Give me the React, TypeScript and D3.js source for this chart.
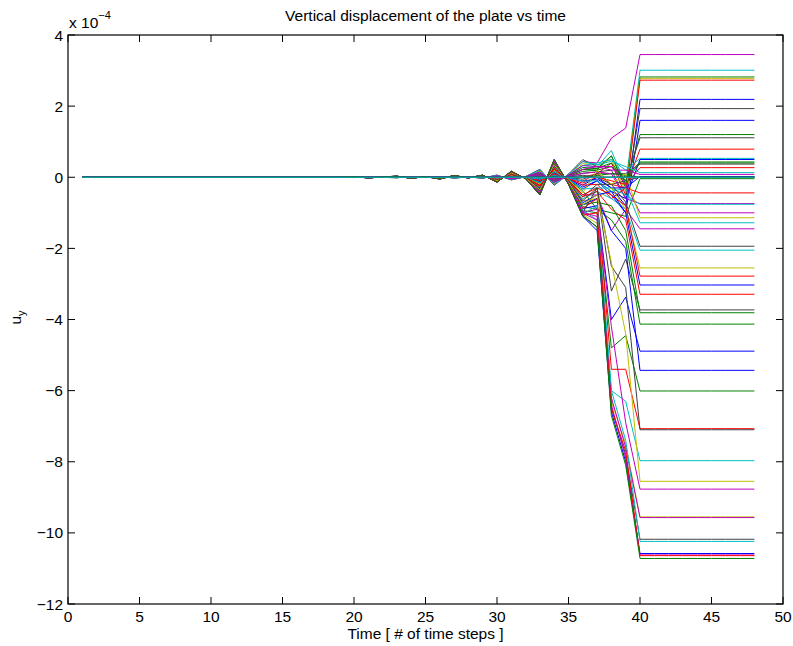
import React, { useMemo } from "react";
import * as d3 from "d3";

// Time axis: the solver's 48 stored steps.
const timeSteps: number[] = d3.range(1, 49);

// Tick values (y in units of 1e-4).
const xTicks = [0, 5, 10, 15, 20, 25, 30, 35, 40, 45, 50];
const yTicks = [4, 2, 0, -2, -4, -6, -8, -10, -12];

// Common temporal amplitude of the growing oscillation, steps 20..36 (×1e-4).
const oscillationSteps = [20, 21, 22, 23, 24, 25, 26, 27, 28, 29, 30, 31, 32, 33, 34, 35, 36];
const oscillationAmplitude = [
  0.02, -0.02, 0.01, 0.03, -0.03, 0.02, -0.05, 0.05, -0.02, 0.06, -0.14, 0.17, -0.04, -0.5, 0.5, -0.2, -1.1,
];

// One entry per plate node (drawing order). Colour letters follow the MATLAB line order.
const nodeColor = [
  "m", "c", "g", "y", "r", "b", "k", "b", "g", "k", "r", "c", "b", "g", "g", "k", "r", "c", "m", "b", "g", "k", "g",
  "r", "m", "c", "m", "y", "c", "m", "k", "c", "y", "r", "b", "r", "k", "g", "g", "b", "b", "g",
  "r", "k", "c", "y", "m", "y", "m", "k", "c", "b", "m", "r", "g",
  "b", "g", "k", "c",
];
// Node participation in the early oscillation mode.
const modeShare = [
  -0.4, -0.3, -0.2, -0.35, 0.1, 0.2, -0.1, 0.3, -0.25, -0.45, 0.0, -0.3, 0.25, -0.15, -0.2, 0.05, 0.15, -0.4, -0.3, 0.1, 0.0, -0.05, 0.35,
  0.2, -0.1, 0.3, -0.2, 0.4, 0.1, 0.45, 0.5, 0.55, 0.6, 0.45, 0.65, 0.5, 0.6, 0.7, 0.75, 0.8, 0.7, 0.85,
  0.8, 0.9, 0.85, 0.7, 0.9, 0.95, 0.9, 1.0, 0.95, 1.0, 0.92, 0.97, 0.98,
  0, 0, 0, 0,
];
// u_y at step 37.
const step37 = [
  0.4, 0.3, 0.2, 0.35, 0.1, 0.0, 0.15, -0.1, 0.25, 0.3, 0.1, 0.4, -0.1, 0.2, 0.25, 0.1, 0.0, 0.35, 0.3, -0.05, 0.05, 0.0, -0.9,
  -0.2, 0.15, -0.3, 0.3, 0.2, -0.1, -0.5, -0.2, -0.4, -0.6, -0.3, -0.5, -0.4, -0.3, -0.7, -0.9, -0.8, -0.6, -1.0,
  -0.6, -0.3, -1.2, -0.5, -0.9, -1.3, -1.1, -1.4, -0.8, -1.5, -1.2, -1.0, -1.4,
  0, 0, 0, 0,
];
// u_y at step 38.
const step38 = [
  1.1, 0.75, 0.6, 0.5, 0.4, -0.3, 0.2, -0.5, 0.6, 0.3, -0.2, 0.5, -0.4, 0.3, 0.4, 0.1, -0.1, 0.45, 0.2, -0.3, 0.1, -0.2, -1.0,
  -0.6, 0.1, -0.3, 0.3, -0.2, -0.4, -1.5, -0.2, -0.6, -0.3, -0.5, -0.4, -0.9, -3.2, -0.8, -1.2, -4.0, -1.5, -4.8,
  -5.4, -2.5, -6.0, -2.4, -4.2, -6.3, -6.2, -6.5, -6.0, -6.6, -6.4, -6.5, -6.7,
  0, 0, 0, 0,
];
// u_y at step 39.
const step39 = [
  1.38, -0.2, -0.3, -0.4, -0.5, -0.8, -0.6, -1.0, -0.2, -0.1, -0.3, 0.2, -0.6, 0.0, -0.1, 0.1, -0.2, 0.3, 0.2, -0.3, 0.05, -0.1, -1.1,
  -0.3, -0.6, -0.5, -0.2, 0.1, -0.3, -0.9, -0.7, -0.9, -0.9, -0.8, -1.0, -1.2, -2.3, -1.5, -1.8, -3.37, -2.0, -4.45,
  -5.4, -3.1, -6.3, -4.4, -6.9, -7.5, -7.6, -7.8, -7.4, -8.0, -7.9, -7.7, -8.1,
  0, 0, 0, 0,
];
// u_y held from step 40 to 48.
const finalValue = [
  3.45, 3.01, 2.82, 2.78, 2.73, 2.19, 1.93, 1.6, 1.2, 1.11, 0.79, 0.53, 0.5, 0.43, 0.4, 0.37, 0.27, 0.13, 0.08, 0.02, 0.0, 0.0, -0.04,
  -0.44, -0.74, -0.76, -1.0, -1.14, -1.28, -1.45, -1.94, -2.05, -2.55, -2.78, -3.03, -3.29, -3.73, -3.81, -4.13, -4.89, -5.43, -6.01,
  -7.07, -7.1, -7.97, -8.55, -8.77, -9.55, -9.57, -10.18, -10.24, -10.58, -10.62, -10.64, -10.72,
  0, 0, 0, 0,
];

const palette: Record<string, string> = {
  b: "#0000ff",
  g: "#008000",
  r: "#ff0000",
  c: "#00bfbf",
  m: "#bf00bf",
  y: "#bfbf00",
  k: "#404040",
};

const W = 793;
const H = 646;
const left = 68;
const right = 783;
const top = 35;
const bottom = 604;
const FONT = "'Liberation Sans', Arial, Helvetica, sans-serif";
const FS = 15.5;

function nodeHistory(i: number): number[] {
  return timeSteps.map((t) => {
    if (t < 20) return 0;
    if (t <= 36) return modeShare[i] * oscillationAmplitude[oscillationSteps.indexOf(t)];
    if (t === 37) return step37[i];
    if (t === 38) return step38[i];
    if (t === 39) return step39[i];
    return finalValue[i];
  });
}

const fmt = (v: number) => (v < 0 ? "\u2212" + Math.abs(v) : String(v));

export default function App() {
  const x = d3.scaleLinear().domain([0, 50]).range([left, right]);
  const y = d3.scaleLinear().domain([-12, 4]).range([bottom, top]);

  const paths = useMemo(() => {
    const line = d3
      .line<number>()
      .x((_, j) => x(timeSteps[j]))
      .y((v) => y(v));
    return finalValue.map((_, i) => ({ d: line(nodeHistory(i)) as string, color: palette[nodeColor[i]] }));
  }, []);

  const tickLen = 7;

  return (
    <svg
      width={W}
      height={H}
      style={{ position: "absolute", left: 0, top: 0, background: "#fff" }}
      fontFamily={FONT}
    >
      <rect x={0} y={0} width={W} height={H} fill="#fff" />
      <g>
        {paths.map((p, i) => (
          <path key={i} d={p.d} fill="none" stroke={p.color} strokeWidth={1} />
        ))}
      </g>
      {/* axes box */}
      <rect x={left} y={top} width={right - left} height={bottom - top} fill="none" stroke="#000" strokeWidth={1.2} />
      {xTicks.map((t) => (
        <g key={"x" + t}>
          <line x1={x(t)} x2={x(t)} y1={bottom} y2={bottom - tickLen} stroke="#000" strokeWidth={1} />
          <line x1={x(t)} x2={x(t)} y1={top} y2={top + tickLen} stroke="#000" strokeWidth={1} />
          <text x={x(t)} y={bottom + 18} textAnchor="middle" fontSize={FS} fill="#000">
            {fmt(t)}
          </text>
        </g>
      ))}
      {yTicks.map((t) => (
        <g key={"y" + t}>
          <line x1={left} x2={left + tickLen} y1={y(t)} y2={y(t)} stroke="#000" strokeWidth={1} />
          <line x1={right} x2={right - tickLen} y1={y(t)} y2={y(t)} stroke="#000" strokeWidth={1} />
          <text x={left - 5} y={y(t) + 5.5} textAnchor="end" fontSize={FS} fill="#000">
            {fmt(t)}
          </text>
        </g>
      ))}
      {/* exponent */}
      <text x={69} y={28} fontSize={FS} fill="#000">
        x 10
        <tspan dy={-9} fontSize={11}>
          {"\u22124"}
        </tspan>
      </text>
      <text x={(left + right) / 2} y={21} textAnchor="middle" fontSize={FS} fill="#000">
        Vertical displacement of the plate vs time
      </text>
      <text x={(left + right) / 2} y={639} textAnchor="middle" fontSize={FS} fill="#000">
        Time [ # of time steps ]
      </text>
      <text transform={`translate(21, ${(top + bottom) / 2 - 2}) rotate(-90)`} textAnchor="middle" fontSize={FS} fill="#000">
        u
        <tspan dy={4} fontSize={11}>
          y
        </tspan>
      </text>
    </svg>
  );
}
